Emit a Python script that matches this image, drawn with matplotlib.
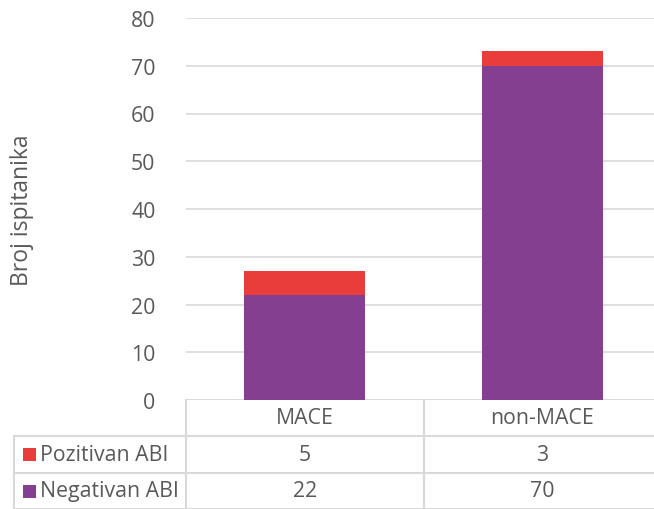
import numpy as np
import matplotlib.pyplot as plt
from matplotlib.transforms import blended_transform_factory
from matplotlib.patches import Rectangle

categories = ['MACE', 'non-MACE']
negativan = [22, 70]
pozitivan = [5, 3]
series_names = ['Pozitivan ABI', 'Negativan ABI']
yticks = [0, 10, 20, 30, 40, 50, 60, 70, 80]

red = '#E83D3A'
purple = '#843F91'
grey = '#595959'
gridc = '#D9D9D9'
fs = 15.3

plt.rcParams['font.family'] = ['Open Sans', 'DejaVu Sans']

W, H = 654, 510
fig = plt.figure(figsize=(W / 100, H / 100), dpi=100)
left, right, top, bottom = 186, 661, 19, 401
ax = fig.add_axes([left / W, (H - bottom) / H, (right - left) / W, (bottom - top) / H])

x = np.arange(len(categories))
ax.bar(x, negativan, width=0.51, color=purple, zorder=3)
ax.bar(x, pozitivan, width=0.51, bottom=negativan, color=red, zorder=3)

ax.set_xlim(-0.5, 1.5)
ax.set_ylim(0, 80)
ax.set_yticks(yticks)
ax.set_yticklabels([str(v) for v in yticks], fontsize=fs, color=grey)
ax.set_xticks([])
ax.tick_params(axis='y', length=0, pad=22)
ax.grid(axis='y', color=gridc, linewidth=1.2, zorder=0)
for s in ax.spines.values():
    s.set_visible(False)
ax.axhline(0, color=gridc, linewidth=1.2, zorder=2)
ax.set_ylabel('Broj ispitanika', fontsize=16.5, color=grey)
ax.yaxis.set_label_coords(-0.32, 0.5)

# data table under the plot
tr = blended_transform_factory(ax.transData, ax.transAxes)
ph = bottom - top
def ay(py):
    return (bottom - py) / ph

y_head, y_r1, y_r2 = ay(437), ay(474), ay(510)
x_left = (14 - left) / ((right - left) / 2) - 0.5
lk = dict(color=gridc, linewidth=1.5, clip_on=False, transform=tr)
ax.plot([x_left, 1.5], [y_head, y_head], **lk)
ax.plot([x_left, 1.5], [y_r1, y_r1], **lk)
ax.plot([x_left, 1.5], [y_r2, y_r2], **lk)
ax.plot([x_left, x_left], [y_head, y_r2], **lk)
for xv in [-0.5, 0.5, 1.5]:
    ax.plot([xv, xv], [0, y_r2], **lk)

for i, c in enumerate(categories):
    ax.text(x[i], (0 + y_head) / 2, c, transform=tr, ha='center', va='center',
            fontsize=fs, color=grey, clip_on=False)

rows = [(series_names[0], pozitivan, red), (series_names[1], negativan, purple)]
bounds = [(y_head, y_r1), (y_r1, y_r2)]
kx = (23 - left) / ((right - left) / 2) - 0.5
kw = 13 / ((right - left) / 2)
kh = 13 / ph
for (name, vals, col), (yt, yb) in zip(rows, bounds):
    yc = (yt + yb) / 2
    ax.add_patch(Rectangle((kx, yc - kh / 2), kw, kh, facecolor=col, edgecolor='none',
                           transform=tr, clip_on=False))
    ax.text(kx + kw * 1.3, yc, name, transform=tr, ha='left', va='center',
            fontsize=fs, color=grey, clip_on=False)
    for i, v in enumerate(vals):
        ax.text(x[i], yc, str(v), transform=tr, ha='center', va='center',
                fontsize=fs, color=grey, clip_on=False)

fig.savefig('out.png', dpi=100)
